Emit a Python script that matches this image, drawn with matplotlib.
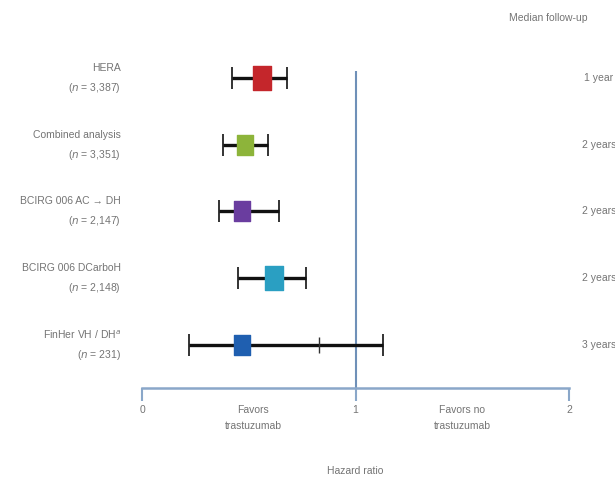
import matplotlib.pyplot as plt
from matplotlib.path import Path

# Study data (hazard ratio with confidence limits)
studies = ['HERA', 'Combined analysis', 'BCIRG 006 AC \u2192 DH', 'BCIRG 006 DCarboH', 'FinHer VH / DH$^{a}$']
n_labels = ['3,387', '3,351', '2,147', '2,148', '231']
hr = [0.56, 0.48, 0.47, 0.62, 0.47]
ci_low = [0.42, 0.38, 0.36, 0.45, 0.22]
ci_high = [0.68, 0.59, 0.64, 0.77, 1.13]
inner_tick = [None, None, None, None, 0.83]
followup = ['1 year', '2 years', '2 years', '2 years', '3 years']
box_colors = ['#c4262b', '#8db43a', '#6a3d9f', '#2a9fc2', '#1f5fb0']
box_sizes = [17, 14, 15, 17, 15]

plt.rcParams['font.family'] = ['Liberation Sans', 'DejaVu Sans']
txt = '#747474'
axis_col = '#8aa7c9'

fig = plt.figure(figsize=(6.15, 4.78), dpi=100)
ax = fig.add_axes([0, 0, 1, 1])
ax.set_xlim(-0.665, 2.215)
ax.set_ylim(6.0, -1.17)

# rectangle marker, a bit taller than wide
box = Path([(-0.4, -0.5), (0.4, -0.5), (0.4, 0.5), (-0.4, 0.5), (-0.4, -0.5)],
           [Path.MOVETO, Path.LINETO, Path.LINETO, Path.LINETO, Path.CLOSEPOLY])

axis_y = 4.65
ax.vlines(1, -0.1, axis_y, color='#6f90b8', lw=1.5, zorder=1)

for i in range(len(studies)):
    ax.errorbar(hr[i], i, xerr=[[hr[i] - ci_low[i]], [ci_high[i] - hr[i]]],
                fmt='none', ecolor='#111111', elinewidth=2.4, capsize=8, capthick=1.2, zorder=2)
    if inner_tick[i] is not None:
        ax.plot(inner_tick[i], i, marker='|', ms=12, mew=1.0, color='#333333', zorder=2)
    ax.plot(hr[i], i, marker=box, ms=box_sizes[i], color=box_colors[i],
            mec=box_colors[i], zorder=3)
    ax.text(-0.10, i - 0.15, studies[i], ha='right', va='center', fontsize=7.5, color=txt)
    ax.text(-0.10, i + 0.15, '($n$ = ' + n_labels[i] + ')', ha='right', va='center',
            fontsize=7.5, color=txt)
    ax.text(2.14, i, followup[i], ha='center', va='center', fontsize=7.5, color=txt)

ax.text(1.72, -0.9, 'Median follow-up', ha='left', va='center', fontsize=7.5, color=txt)

# bottom axis
for s in ['top', 'right', 'left']:
    ax.spines[s].set_visible(False)
ax.spines['bottom'].set_position(('data', axis_y))
ax.spines['bottom'].set_bounds(0, 2)
ax.spines['bottom'].set_color(axis_col)
ax.spines['bottom'].set_linewidth(1.8)
ax.set_yticks([])
ax.set_xticks([0, 1, 2])
ax.tick_params(axis='x', direction='out', length=9, width=1.5, color=axis_col,
               labelcolor=txt, labelsize=7.5, pad=3)

ax.text(0.52, axis_y + 0.45, 'Favors\ntrastuzumab', ha='center', va='center',
        fontsize=7.5, color=txt, linespacing=1.7)
ax.text(1.5, axis_y + 0.45, 'Favors no\ntrastuzumab', ha='center', va='center',
        fontsize=7.5, color=txt, linespacing=1.7)
ax.text(1.0, axis_y + 1.25, 'Hazard ratio', ha='center', va='center', fontsize=7.5, color=txt)

fig.savefig('out.png', dpi=100)
